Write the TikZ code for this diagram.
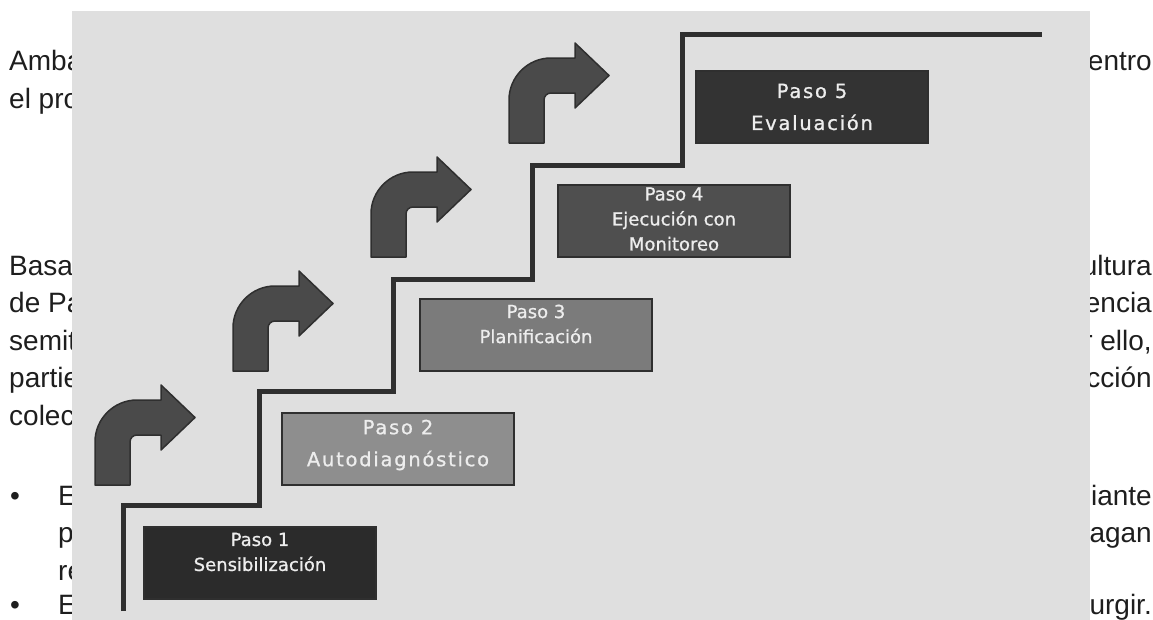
\documentclass[tikz,border=0pt]{standalone}
\usepackage{fontspec}
\setmainfont{Liberation Sans}
\newfontfamily\pasofont[FakeBold=0.9]{DejaVu Sans}
\usetikzlibrary{positioning}
\definecolor{docink}{HTML}{1E1E1E}
\definecolor{panelgray}{HTML}{DFDFDF}
\definecolor{stairgray}{HTML}{2F2F2F}
\definecolor{arrowgray}{HTML}{4A4A4A}
\definecolor{pasoone}{HTML}{2B2B2B}
\definecolor{pasotwo}{HTML}{8E8E8E}
\definecolor{pasothree}{HTML}{7B7B7B}
\definecolor{pasofour}{HTML}{4F4F4F}
\definecolor{pasofive}{HTML}{333333}
\definecolor{pasoink}{HTML}{EDEDED}
\tikzset{
    every node/.style={inner sep=0pt},
    doctext/.style={font=\fontsize{28}{37.5}\selectfont,text=docink},
    leftfrag/.style={doctext,anchor=base west},
    rightfrag/.style={doctext,anchor=base east},
    stair/.style={draw=stairgray,line width=5pt},
    pasobox/.style={draw=stairgray,line width=2.5pt,minimum width=232pt,minimum height=72pt},
    pasolabel/.style={text=pasoink,align=center,font=\pasofont\fontsize{18}{25}\selectfont},
    spaced/.style={font={\pasofont\fontsize{19.5}{32}\selectfont\addfontfeatures{LetterSpace=9}}},
    bentarrow/.style={draw=stairgray,fill=arrowgray,line width=1.5pt,line join=round},
    bendup/.pic={
        \path[bentarrow,yscale=-1] (0,0) -- (0,43) arc[start angle=180,end angle=90,radius=42]
            -- (66,85) -- (66,100) -- (100,67.5) -- (66,35) -- (66,50) -- (42,50)
            arc[start angle=90,end angle=180,radius=7] -- (35,0) -- cycle;
    }
}

\begin{document}
\begin{tikzpicture}[x=1pt,y=-1pt]
\useasboundingbox (0,0) rectangle (1153,619);

% page text behind the figure
\node[leftfrag] (l1) at (9,70) {Amba};
\node[leftfrag] (l2) at (9,108) {el pro};
\node[leftfrag] (l3) at (9,275) {Basad};
\node[leftfrag] (l4) at (9,312.5) {de Pa};
\node[leftfrag] (l5) at (9,350) {semit};
\node[leftfrag] (l6) at (9,387.5) {partie};
\node[leftfrag] (l7) at (9,425) {colec};
\node[leftfrag] (b1) at (10,505) {•};
\node[leftfrag] (l8) at (58,505) {E};
\node[leftfrag] (l9) at (58,542.5) {p};
\node[leftfrag] (l10) at (58,580) {re};
\node[leftfrag] (b2) at (10,614) {•};
\node[leftfrag] (l11) at (58,614) {E};
\node[rightfrag] (r1) at (1152,70) {entro};
\node[rightfrag] (r2) at (1152,275) {ultura};
\node[rightfrag] (r3) at (1152,312.5) {encia};
\node[rightfrag] (r4) at (1152,350) {r ello,};
\node[rightfrag] (r5) at (1152,387.5) {cción};
\node[rightfrag] (r6) at (1152,505) {liante};
\node[rightfrag] (r7) at (1152,542.5) {hagan};
\node[rightfrag] (r8) at (1152,614) {urgir.};

% figure
\fill[panelgray] (72,11) rectangle (1090,625);
\draw[stair] (123,611) |- (259,505) |- (393,391) |- (532,279) |- (682,165) |- (1042,34);

\pic (up1) at (95,485) {bendup};
\pic (up2) at (233,371) {bendup};
\pic (up3) at (371,257) {bendup};
\pic (up4) at (509,143) {bendup};

\node[pasobox,fill=pasoone] (paso1) at (260,563) {};
\node[pasolabel,yshift=11pt] (paso1txt) at (paso1.center) {Paso 1\\Sensibilización};
\node[pasobox,fill=pasotwo] (paso2) at (398,449) {};
\node[pasolabel,spaced,yshift=4pt] (paso2txt) at (paso2.center) {Paso 2\\Autodiagnóstico};
\node[pasobox,fill=pasothree] (paso3) at (536,335) {};
\node[pasolabel,yshift=11pt] (paso3txt) at (paso3.center) {Paso 3\\Planificación};
\node[pasobox,fill=pasofour] (paso4) at (674,221) {};
\node[pasolabel,yshift=2pt] (paso4txt) at (paso4.center) {Paso 4\\Ejecución con\\Monitoreo};
\node[pasobox,fill=pasofive] (paso5) at (812,107) {};
\node[pasolabel,spaced] (paso5txt) at (paso5.center) {Paso 5\\Evaluación};
\end{tikzpicture}
\end{document}
